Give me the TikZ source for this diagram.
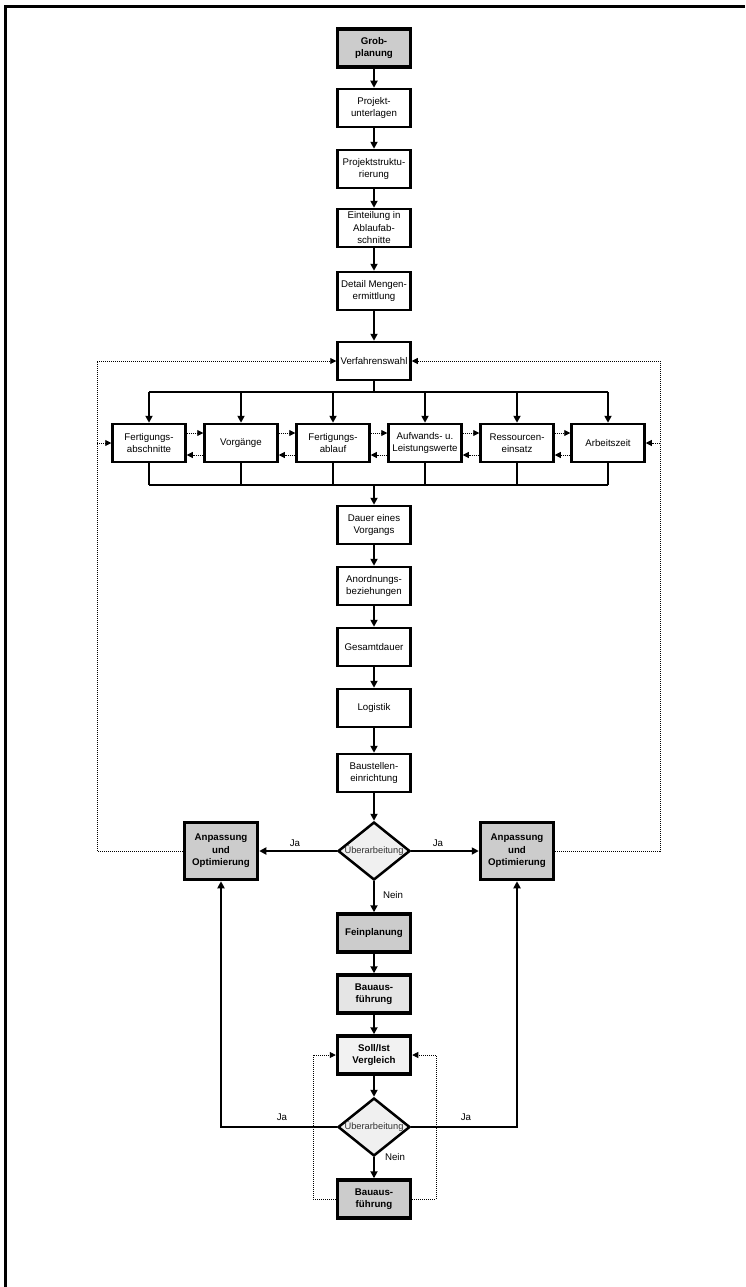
\documentclass[tikz,border=0pt]{standalone}
\usepackage{fontspec}
\setmainfont{Liberation Sans}
\usetikzlibrary{arrows.meta,shapes.geometric,shadows}

\definecolor{keygray}{gray}{0.80}
\definecolor{softgray}{gray}{0.90}
\definecolor{palegray}{gray}{0.95}
\definecolor{checkgray}{gray}{0.94}

\begin{document}
\begin{tikzpicture}[x=1pt,y=-1pt,
    >={Triangle[length=7pt,width=7pt]},
    every node/.style={font=\fontsize{9.7}{12.5}\selectfont, align=center},
    box/.style={draw, line width=2.5pt, fill=white, minimum width=73pt, minimum height=38pt, inner sep=1pt},
    keybox/.style={box, line width=3.5pt, fill=keygray, font=\fontsize{9.7}{12.5}\selectfont\bfseries,
        drop shadow={shadow xshift=1.5pt, shadow yshift=-1.5pt, fill=black!35, opacity=1}},
    check/.style={diamond, draw, line width=2.5pt, fill=checkgray, minimum width=72pt, minimum height=58pt, inner sep=0pt},
    flow/.style={->, line width=2.5pt},
    dotflow/.style={-{Triangle[length=6pt,width=6pt]}, line width=0.8pt, dash pattern=on 1pt off 1pt}]

    \useasboundingbox (0,0) rectangle (745,1287);

    %frame
    \draw[line width=3pt] (5.5,1287) -- (5.5,6.5) -- (745,6.5);

    %upper column
    \node[keybox] (grob) at (374,48) {Grob-\\planung};
    \node[box] (unterl) at (374,108) {Projekt-\\unterlagen};
    \node[box] (struk) at (374,169) {Projektstruktu-\\rierung};
    \node[box] (eint) at (374,228) {Einteilung in\\Ablaufab-\\schnitte};
    \node[box] (menge) at (374,291) {Detail Mengen-\\ermittlung};
    \node[box, inner sep=0pt] (wahl) at (374,361) {Verfahrenswahl};

    %row
    \node[box] (fa) at (149,443) {Fertigungs-\\abschnitte};
    \node[box] (vg) at (241,443) {Vorgänge};
    \node[box] (fl) at (333,443) {Fertigungs-\\ablauf};
    \node[box] (aw) at (425,443) {Aufwands- u.\\Leistungswerte};
    \node[box] (rs) at (517,443) {Ressourcen-\\einsatz};
    \node[box] (az) at (608,443) {Arbeitszeit};
    \coordinate (bustop) at (374,392);
    \coordinate (busbot) at (374,485);

    %lower column
    \node[box] (dauer) at (374,525) {Dauer eines\\Vorgangs};
    \node[box] (anord) at (374,586) {Anordnungs-\\beziehungen};
    \node[box] (gesamt) at (374,647) {Gesamtdauer};
    \node[box] (logistik) at (374,708) {Logistik};
    \node[box] (baust) at (374,773) {Baustellen-\\einrichtung};
    \node[check, label={[font=\fontsize{9.3}{11}\selectfont, text=black!80]center:Überarbeitung}] (pruef1) at (374,851) {};
    \node[keybox, minimum height=57pt] (anpl) at (221,851) {Anpassung\\und\\Optimierung};
    \node[keybox, minimum height=57pt] (anpr) at (517,851) {Anpassung\\und\\Optimierung};
    \node[keybox] (fein) at (374,933) {Feinplanung};
    \node[keybox, fill=softgray] (bau1) at (374,994) {Bauaus-\\führung};
    \node[keybox, fill=palegray] (soll) at (374,1055) {Soll/Ist\\Vergleich};
    \node[check, label={[font=\fontsize{9.3}{11}\selectfont, text=black!80]center:Überarbeitung}] (pruef2) at (374,1127) {};
    \node[keybox] (bau2) at (374,1199) {Bauaus-\\führung};

    %main flow
    \foreach \a/\b in {grob/unterl, unterl/struk, struk/eint, eint/menge, menge/wahl,
        dauer/anord, anord/gesamt, gesamt/logistik, logistik/baust, baust/pruef1,
        pruef1/fein, fein/bau1, bau1/soll, soll/pruef2, pruef2/bau2}
        \draw[flow] (\a) -- (\b);

    %busses
    \draw[line width=2.5pt] (wahl.south) -- (bustop);
    \draw[line width=2.5pt] (fa.north |- bustop) -- (az.north |- bustop);
    \draw[line width=2.5pt] (fa.south |- busbot) -- (az.south |- busbot);
    \foreach \n in {fa,vg,fl,aw,rs,az} {
        \draw[flow] (\n.north |- bustop) -- (\n.north);
        \draw[line width=2.5pt] (\n.south) -- (\n.south |- busbot);
    }
    \draw[flow] (busbot) -- (dauer.north);

    %row feedback
    \foreach \a/\b in {fa/vg, vg/fl, fl/aw, aw/rs, rs/az} {
        \draw[dotflow] ([yshift=10pt]\a.east) -- ([yshift=10pt]\b.west);
        \draw[dotflow] ([yshift=-12pt]\b.west) -- ([yshift=-12pt]\a.east);
    }

    %decisions
    \draw[flow] (pruef1.west) -- (anpl.east);
    \draw[flow] (pruef1.east) -- (anpr.west);
    \draw[flow] (pruef2.west) -| (anpl.south);
    \draw[flow] (pruef2.east) -| (anpr.south);
    \node (ja1) at (295,843) {Ja};
    \node (ja2) at (438,843) {Ja};
    \node (nein1) at (393,895) {Nein};
    \node (ja3) at (282,1117) {Ja};
    \node (ja4) at (466,1117) {Ja};
    \node (nein2) at (395,1157) {Nein};

    %outer feedback (dotted)
    \coordinate (lturn) at (97,443);
    \coordinate (rturn) at (660,443);
    \draw[dotflow] (anpl.west) -| (lturn) |- (wahl.west);
    \draw[dotflow] (lturn) -- (fa.west);
    \draw[dotflow] (anpr.east) -| (rturn) |- (wahl.east);
    \draw[dotflow] (rturn) -- (az.east);

    %inner feedback (dotted)
    \coordinate (sleft) at (313,1199);
    \coordinate (sright) at (436,1199);
    \draw[dotflow] (bau2.west) -- (sleft) |- (soll.west);
    \draw[dotflow] (bau2.east) -- (sright) |- (soll.east);
\end{tikzpicture}
\end{document}
